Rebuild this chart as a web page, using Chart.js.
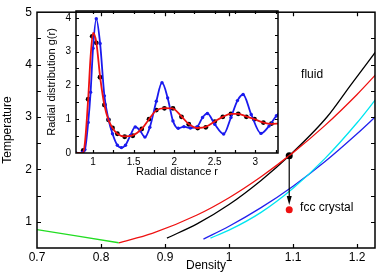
<!DOCTYPE html>
<html>
<head>
<meta charset="utf-8">
<script src="https://cdn.jsdelivr.net/npm/chart.js@4/dist/chart.umd.min.js"></script>
<style>
  html, body { margin: 0; padding: 0; background: #fff; }
  #wrap { position: relative; width: 389px; height: 273px; }
  #main { position: absolute; left: 0; top: 0; }
  #inset { position: absolute; left: 40px; top: 0; }
</style>
</head>
<body>
<div id="wrap">
  <canvas id="main" width="389" height="273"></canvas>
  <canvas id="inset" width="245" height="179"></canvas>
</div>
<script>
// main phase diagram: density vs temperature
const greenRho = [0.7, 0.8276];
const greenT = [0.85, 0.6];
const redRho = [0.8276, 0.88, 0.95, 1.0, 1.05, 1.1, 1.15, 1.2, 1.23];
const redT = [0.6, 0.78, 1.13, 1.46, 1.86, 2.32, 2.84, 3.43, 3.82];
const blackRho = [0.903, 0.95, 1.0, 1.05, 1.094, 1.153, 1.19, 1.23];
const blackT = [0.69, 0.96, 1.33, 1.79, 2.26, 3.0, 3.61, 4.26];
const cyanRho = [0.971, 1.0, 1.05, 1.1, 1.15, 1.2, 1.23];
const cyanT = [0.69, 0.84, 1.18, 1.64, 2.21, 2.89, 3.35];
const blueRho = [0.96, 1.0, 1.05, 1.1, 1.15, 1.2, 1.23];
const blueT = [0.67, 0.915, 1.27, 1.68, 2.15, 2.68, 3.02];
const crossRho = 1.094, crossT = 2.26;   // black marker
const crystalRho = 1.094, crystalT = 1.23; // red marker
const mainXTicks = [0.7, 0.8, 0.9, 1.0, 1.1, 1.2];
const mainXLabels = ["0.7", "0.8", "0.9", "1", "1.1", "1.2"];
const mainYTicks = [1, 2, 3, 4, 5];
const mainXMarks = [0.8, 0.9, 1.0, 1.1, 1.2];
const mainYMarks = [1, 1.5, 2, 2.5, 3, 3.5, 4, 4.5];

// inset: radial distribution g(r)
const redR = [0.79, 0.87, 0.9, 0.94, 0.97, 1.0, 1.04, 1.09, 1.14, 1.19, 1.24, 1.3, 1.39, 1.49, 1.6, 1.69, 1.78, 1.88, 1.98, 2.09, 2.18, 2.29, 2.39, 2.5, 2.6, 2.7, 2.79, 2.89, 2.99, 3.1, 3.2, 3.29];
const redG = [0, 0, 0.3, 1.6, 2.85, 3.55, 3.28, 2.2, 1.42, 0.98, 0.74, 0.57, 0.49, 0.52, 0.71, 1.0, 1.26, 1.33, 1.32, 1.08, 0.86, 0.74, 0.77, 0.93, 1.07, 1.16, 1.16, 1.08, 1.0, 0.9, 0.86, 0.87];
const dotR = [0.88, 0.94, 0.99, 1.04, 1.086, 1.14, 1.19, 1.24, 1.3, 1.39, 1.49, 1.6, 1.69, 1.78, 1.88, 1.985, 2.09, 2.18, 2.29, 2.39, 2.5, 2.6, 2.7, 2.79, 2.89, 2.99, 3.1, 3.2];
const dotG = [0.08, 1.59, 3.45, 3.26, 2.24, 1.42, 0.98, 0.74, 0.57, 0.48, 0.51, 0.71, 1.0, 1.27, 1.32, 1.32, 1.07, 0.85, 0.74, 0.76, 0.93, 1.07, 1.16, 1.16, 1.07, 1.0, 0.9, 0.87];
const blueR = [0.79, 0.87, 0.9, 0.94, 0.97, 1.0, 1.04, 1.087, 1.14, 1.19, 1.24, 1.3, 1.35, 1.4, 1.46, 1.52, 1.58, 1.64, 1.7, 1.78, 1.85, 1.92, 1.985, 2.05, 2.12, 2.2, 2.28, 2.35, 2.41, 2.5, 2.61, 2.7, 2.78, 2.85, 2.95, 3.07, 3.17, 3.26, 3.29];
const blueG = [0, 0.02, 0.1, 0.9, 1.8, 3.1, 3.97, 3.24, 1.69, 1.0, 0.57, 0.23, 0.16, 0.23, 0.52, 0.77, 0.66, 0.47, 0.76, 1.53, 2.08, 1.63, 0.95, 0.73, 0.78, 0.74, 0.77, 1.05, 1.17, 0.85, 0.56, 1.05, 1.55, 1.73, 1.14, 0.58, 0.8, 1.1, 1.15];
const insetXTicks = [1, 1.5, 2, 2.5, 3];
const insetYTicks = [0, 1, 2, 3, 4];
const insetXMarks = [1, 1.25, 1.5, 1.75, 2, 2.25, 2.5, 2.75, 3, 3.25];
const insetYMarks = [0.5, 1, 1.5, 2, 2.5, 3, 3.5, 4];

Chart.defaults.font.family = "'Liberation Sans', Arial, sans-serif";
Chart.defaults.color = "#000";

function pts(xs, ys) {
  return xs.map((x, i) => ({ x: x, y: ys[i] }));
}

function line(xs, ys, color, width) {
  return { data: pts(xs, ys), borderColor: color, borderWidth: width, pointRadius: 0, fill: false, cubicInterpolationMode: "monotone" };
}

// box round the plot with inward tick marks
const frame = {
  id: "frame",
  afterDraw(chart, args, opts) {
    const { ctx, chartArea: a } = chart;
    const x = chart.scales.x, y = chart.scales.y;
    ctx.save();
    ctx.strokeStyle = "#000";
    ctx.lineWidth = 1.2;
    ctx.beginPath();
    opts.xMarks.forEach(v => {
      const px = Math.round(x.getPixelForValue(v)) + 0.5;
      ctx.moveTo(px, a.bottom); ctx.lineTo(px, a.bottom - opts.len);
      ctx.moveTo(px, a.top); ctx.lineTo(px, a.top + opts.len);
    });
    opts.yMarks.forEach(v => {
      const py = Math.round(y.getPixelForValue(v)) + 0.5;
      ctx.moveTo(a.left, py); ctx.lineTo(a.left + opts.len, py);
      ctx.moveTo(a.right, py); ctx.lineTo(a.right - opts.len, py);
    });
    ctx.stroke();
    ctx.lineWidth = 1.5;
    ctx.strokeRect(a.left, a.top, a.right - a.left, a.bottom - a.top);
    ctx.restore();
  }
};

// arrow and the two phase labels
const notes = {
  id: "notes",
  afterDatasetsDraw(chart) {
    const { ctx } = chart;
    const x = chart.scales.x, y = chart.scales.y;
    const ax = x.getPixelForValue(crossRho);
    const y0 = y.getPixelForValue(crossT);
    const y1 = y.getPixelForValue(1.32);
    ctx.save();
    ctx.strokeStyle = "#000";
    ctx.fillStyle = "#000";
    ctx.lineWidth = 1.2;
    ctx.beginPath();
    ctx.moveTo(ax, y0); ctx.lineTo(ax, y1 - 6);
    ctx.stroke();
    ctx.beginPath();
    ctx.moveTo(ax, y1); ctx.lineTo(ax - 2.5, y1 - 9); ctx.lineTo(ax + 2.5, y1 - 9);
    ctx.closePath();
    ctx.fill();
    ctx.font = "12px 'Liberation Sans', Arial, sans-serif";
    ctx.textBaseline = "middle";
    ctx.fillText("fluid", x.getPixelForValue(1.1125), y.getPixelForValue(3.8));
    ctx.fillText("fcc crystal", x.getPixelForValue(1.111), y.getPixelForValue(1.26));
    ctx.restore();
  }
};

new Chart(document.getElementById("main"), {
  type: "line",
  data: {
    datasets: [
      line(greenRho, greenT, "#22dd22", 1.3),
      line(redRho, redT, "#ee1111", 1.3),
      line(blackRho, blackT, "#000000", 1.3),
      line(cyanRho, cyanT, "#00e5f0", 1.3),
      line(blueRho, blueT, "#2222ee", 1.3),
      { data: pts([crossRho], [crossT]), showLine: false, pointRadius: 3.5, pointBackgroundColor: "#000", pointBorderWidth: 0 },
      { data: pts([crystalRho], [crystalT]), showLine: false, pointRadius: 3.5, pointBackgroundColor: "#ee1111", pointBorderWidth: 0 }
    ]
  },
  options: {
    responsive: false,
    animation: false,
    devicePixelRatio: 1,
    layout: { padding: { left: 0, right: 14, top: 8, bottom: 0 } },
    plugins: {
      legend: { display: false },
      tooltip: { enabled: false },
      frame: { xMarks: mainXMarks, yMarks: mainYMarks, len: 4 }
    },
    scales: {
      x: {
        type: "linear", min: 0.7, max: 1.228,
        afterBuildTicks: s => { s.ticks = mainXTicks.map(v => ({ value: v })); },
        afterFit: s => { s.height = 25; },
        ticks: { padding: 2, maxRotation: 0, font: { size: 12 }, callback: (v, i) => mainXLabels[i] },
        grid: { display: false, drawTicks: false },
        border: { display: false },
        title: { display: true, text: "Density", font: { size: 12 }, padding: { top: 0, bottom: 0 } }
      },
      y: {
        type: "linear", min: 0.5, max: 5,
        afterBuildTicks: s => { s.ticks = mainYTicks.map(v => ({ value: v })); },
        afterFit: s => { s.width = 37; },
        ticks: { padding: 5, font: { size: 12 }, callback: v => String(v) },
        grid: { display: false, drawTicks: false },
        border: { display: false },
        title: { display: true, text: "Temperature", font: { size: 12 }, padding: { top: 0, bottom: 0 } }
      }
    }
  },
  plugins: [frame, notes]
});

new Chart(document.getElementById("inset"), {
  type: "line",
  data: {
    datasets: [
      { data: pts(redR, redG), borderColor: "#ee1111", borderWidth: 1.8, pointRadius: 0, cubicInterpolationMode: "monotone" },
      { data: pts(blueR, blueG), borderColor: "#1a1aee", borderWidth: 1.8, pointRadius: 1.7, pointBackgroundColor: "#1a1aee", pointBorderWidth: 0, cubicInterpolationMode: "monotone" },
      { data: pts(dotR, dotG), showLine: false, pointRadius: 2.4, pointBackgroundColor: "#000", pointBorderWidth: 0 }
    ]
  },
  options: {
    responsive: false,
    animation: false,
    devicePixelRatio: 1,
    layout: { padding: { left: 0, right: 7, top: 8, bottom: 0 } },
    plugins: {
      legend: { display: false },
      tooltip: { enabled: false },
      frame: { xMarks: insetXMarks, yMarks: insetYMarks, len: 3 }
    },
    scales: {
      x: {
        type: "linear", min: 0.79, max: 3.28,
        afterBuildTicks: s => { s.ticks = insetXTicks.map(v => ({ value: v })); },
        afterFit: s => { s.height = 26; },
        ticks: { padding: 3, maxRotation: 0, font: { size: 10 }, callback: v => String(v) },
        grid: { display: false, drawTicks: false },
        border: { display: false },
        title: { display: true, text: "Radial distance r", font: { size: 11 }, padding: { top: 0, bottom: 0 } }
      },
      y: {
        type: "linear", min: 0, max: 4.2,
        afterBuildTicks: s => { s.ticks = insetYTicks.map(v => ({ value: v })); },
        afterFit: s => { s.width = 36; },
        ticks: { padding: 5, font: { size: 10 }, callback: v => String(v) },
        grid: { display: false, drawTicks: false },
        border: { display: false },
        title: { display: true, text: "Radial distribution g(r)", font: { size: 11 }, padding: { top: 5, bottom: 0 } }
      }
    }
  },
  plugins: [frame]
});
</script>
</body>
</html>
